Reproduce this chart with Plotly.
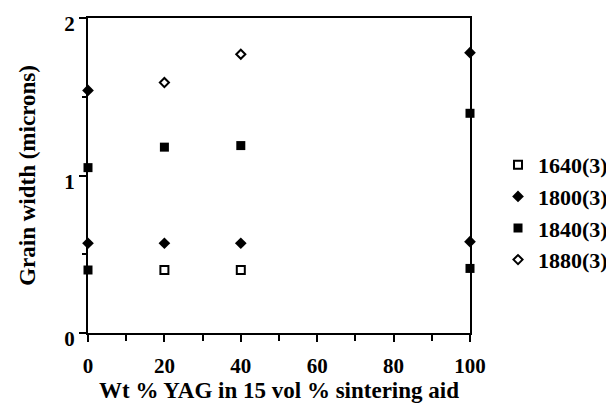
import plotly.graph_objects as go

# Data
series = ["1640(3)", "1800(3)", "1840(3)", "1880(3)"]
x_1640 = [20, 40]
y_1640 = [0.40, 0.40]
x_1800 = [0, 0, 20, 40, 100, 100]
y_1800 = [1.54, 0.57, 0.57, 0.57, 1.78, 0.58]
x_1840 = [0, 0, 20, 40, 100, 100]
y_1840 = [1.05, 0.40, 1.18, 1.19, 1.395, 0.41]
x_1880 = [20, 40]
y_1880 = [1.59, 1.77]

x_ticks = [0, 20, 40, 60, 80, 100]
x_minor = [10, 30, 50, 70, 90]
y_ticks = [0, 1, 2]
y_minor = [0.5, 1.5]

FONT = "Liberation Serif"

fig = go.Figure()
styles = [
    (x_1640, y_1640, "square-open", 8, 2),
    (x_1800, y_1800, "diamond", 9, 0),
    (x_1840, y_1840, "square", 9, 0),
    (x_1880, y_1880, "diamond-open", 7, 2),
]
for name, (xs, ys, sym, size, lw) in zip(series, styles):
    fig.add_trace(go.Scatter(
        x=xs, y=ys, mode="markers", name=name, cliponaxis=False,
        marker=dict(symbol=sym, size=size, color="black",
                    line=dict(color="black", width=lw)),
    ))

# page body has an 8px margin, so the figure is drawn 8px in from the corner
fig.update_layout(
    template="none",
    width=606, height=402,
    margin=dict(l=80, r=144, t=10, b=77),
    paper_bgcolor="white", plot_bgcolor="white",
    font=dict(family=FONT, color="black", size=21),
    showlegend=True,
    legend=dict(xref="container", x=0.8086, y=0.60, xanchor="left", yanchor="top",
                font=dict(family=FONT, size=22, color="black", weight="bold"),
                bgcolor="rgba(0,0,0,0)", tracegroupgap=0, borderwidth=0),
    xaxis=dict(
        range=[0, 100], tickmode="array", tickvals=x_ticks,
        ticktext=[str(v) for v in x_ticks],
        ticks="outside", ticklen=7, tickwidth=2, tickcolor="black",
        minor=dict(tickvals=x_minor, ticks="outside", ticklen=6,
                   tickwidth=2, tickcolor="black", showgrid=False),
        showline=True, linecolor="black", linewidth=2, mirror=True,
        showgrid=False, zeroline=False, automargin=False,
        ticklabeloverflow="allow", ticklabelstandoff=6,
        tickfont=dict(family=FONT, size=21, color="black", weight="bold"),
        title=dict(text="Wt % YAG in 15 vol % sintering aid", standoff=1,
                   font=dict(family=FONT, size=23, color="black", weight="bold")),
    ),
    yaxis=dict(
        range=[0, 2], tickmode="array", tickvals=y_ticks,
        ticktext=[str(v) for v in y_ticks],
        ticks="outside", ticklen=7, tickwidth=2, tickcolor="black",
        minor=dict(tickvals=y_minor, ticks="outside", ticklen=4,
                   tickwidth=2, tickcolor="black", showgrid=False),
        showline=True, linecolor="black", linewidth=2, mirror=True,
        showgrid=False, zeroline=False, automargin=False,
        ticklabeloverflow="allow", ticklabelshift=6,
        tickfont=dict(family=FONT, size=21, color="black", weight="bold"),
        title=dict(text="Grain width (microns)", standoff=22,
                   font=dict(family=FONT, size=23, color="black", weight="bold")),
    ),
)

fig.write_html("out.html")
